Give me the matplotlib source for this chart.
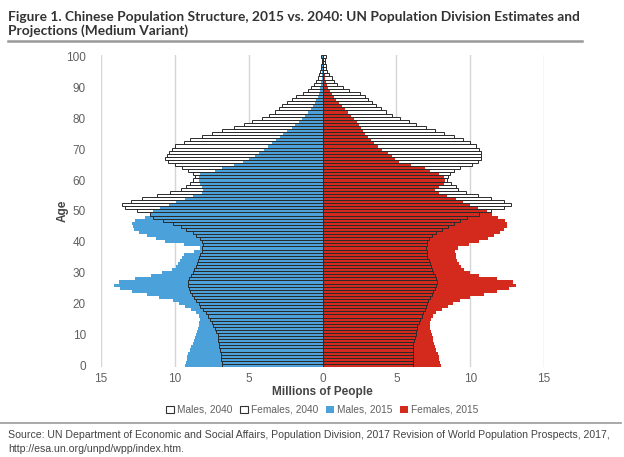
import numpy as np
import matplotlib
matplotlib.use("Agg")
import matplotlib.pyplot as plt
from matplotlib.patches import Patch

ages = np.arange(0, 101)

# millions of people, single year of age 0..100 (100 = 100+)
males_2015 = [
    9.3, 9.25, 9.2, 9.15, 9.1, 9.0, 8.9, 8.8, 8.7, 8.65,
    8.55, 8.5, 8.45, 8.4, 8.35, 8.3, 8.4, 8.6, 8.9, 9.3,
    9.7, 10.1, 11.1, 11.9, 12.9, 13.7, 14.1, 13.8, 12.7, 11.6,
    10.9, 10.2, 9.95, 9.8, 9.65, 9.55, 9.4, 8.7, 8.3, 9.4,
    10.7, 11.3, 11.9, 12.4, 12.75, 12.85, 12.9, 12.7, 12.0, 11.7,
    11.5, 11.0, 10.4, 9.9, 9.3, 8.8, 8.2, 8.1, 8.2, 8.3,
    8.4, 8.4, 8.3, 7.3, 6.8, 6.0, 5.4, 5.0, 4.6, 4.3,
    4.0, 3.7, 3.4, 3.15, 2.9, 2.65, 2.4, 2.1, 1.85, 1.6,
    1.4, 1.2, 1.0, 0.8, 0.65, 0.52, 0.42, 0.33, 0.26, 0.2,
    0.15, 0.11, 0.08, 0.06, 0.04, 0.03, 0.02, 0.015, 0.01, 0.01,
    0.01,
]
females_2015 = [
    8.0, 7.95, 7.9, 7.85, 7.8, 7.7, 7.6, 7.55, 7.5, 7.45,
    7.4, 7.35, 7.3, 7.3, 7.3, 7.35, 7.45, 7.65, 8.1, 8.5,
    8.8, 9.3, 10.0, 10.9, 11.8, 12.6, 13.1, 12.9, 11.8, 10.6,
    10.0, 9.6, 9.4, 9.25, 9.1, 9.05, 9.05, 8.95, 9.2, 9.9,
    10.6, 11.2, 11.6, 12.0, 12.3, 12.5, 12.5, 12.35, 11.9, 11.5,
    11.1, 10.5, 10.0, 9.5, 9.0, 8.4, 7.9, 7.6, 7.85, 8.2,
    8.3, 8.2, 7.85, 7.3, 6.9, 6.0, 5.2, 4.9, 4.7, 4.45,
    4.05, 3.75, 3.5, 3.25, 3.05, 2.9, 2.75, 2.6, 2.45, 2.3,
    2.1, 1.95, 1.75, 1.55, 1.3, 1.1, 0.92, 0.78, 0.62, 0.48,
    0.38, 0.3, 0.23, 0.18, 0.14, 0.1, 0.08, 0.06, 0.04, 0.03,
    0.04,
]
males_2040 = [
    6.8, 6.8, 6.85, 6.9, 6.9, 6.95, 7.0, 7.0, 7.05, 7.1,
    7.1, 7.2, 7.3, 7.4, 7.5, 7.6, 7.75, 7.9, 8.1, 8.3,
    8.4, 8.55, 8.7, 8.85, 8.95, 9.05, 9.1, 9.1, 9.05, 8.9,
    8.8, 8.7, 8.6, 8.5, 8.45, 8.4, 8.3, 8.2, 8.15, 8.1,
    8.15, 8.3, 8.6, 8.8, 9.25, 9.6, 10.1, 10.8, 11.5, 11.7,
    12.6, 13.4, 13.6, 13.0, 12.2, 11.2, 10.3, 9.6, 9.25, 9.0,
    8.75, 8.65, 8.8, 9.1, 9.5, 10.0, 10.5, 10.7, 10.55, 10.4,
    10.2, 10.0, 9.4, 9.0, 8.2, 7.5, 6.8, 6.0, 5.35, 4.75,
    4.1, 3.6, 3.25, 2.95, 2.75, 2.4, 2.05, 1.8, 1.3, 1.0,
    0.78, 0.58, 0.45, 0.32, 0.22, 0.16, 0.12, 0.09, 0.07, 0.05,
    0.12,
]
females_2040 = [
    6.1, 6.1, 6.1, 6.1, 6.1, 6.12, 6.15, 6.15, 6.2, 6.25,
    6.3, 6.33, 6.37, 6.42, 6.5, 6.6, 6.7, 6.8, 6.9, 7.0,
    7.05, 7.15, 7.25, 7.4, 7.5, 7.6, 7.7, 7.75, 7.7, 7.6,
    7.5, 7.4, 7.35, 7.25, 7.2, 7.1, 7.05, 7.05, 7.0, 7.05,
    7.1, 7.2, 7.4, 7.7, 8.1, 8.5, 8.9, 9.3, 9.8, 10.6,
    11.4, 12.3, 12.75, 12.3, 11.4, 10.5, 9.7, 9.2, 9.0, 8.7,
    8.45, 8.5, 8.65, 8.9, 9.3, 10.1, 10.5, 10.7, 10.75, 10.7,
    10.6, 10.4, 10.0, 9.5, 8.9, 8.2, 7.6, 7.0, 6.35, 5.85,
    5.25, 4.7, 4.3, 3.95, 3.6, 3.35, 3.1, 2.85, 2.5, 1.8,
    1.4, 0.95, 0.78, 0.62, 0.45, 0.33, 0.25, 0.2, 0.16, 0.15,
    0.2,
]

x_ticks = [-15, -10, -5, 0, 5, 10, 15]
x_labels = ["15", "10", "5", "0", "5", "10", "15"]
y_ticks = list(range(0, 101, 10))
legend_labels = ["Males, 2040", "Females, 2040", "Males, 2015", "Females, 2015"]

blue = "#4ba1da"
red = "#d42a1d"
text_gray = "#606060"

plt.rcParams["font.family"] = ["Liberation Sans", "DejaVu Sans"]

fig = plt.figure(figsize=(6.24, 4.57), dpi=100)
ax = fig.add_axes([0.162, 0.197, 0.710, 0.683])

m15 = -np.array(males_2015)
f15 = np.array(females_2015)
m40 = -np.array(males_2040)
f40 = np.array(females_2040)

# white fill of 2040 bars behind, 2015 colour, then 2040 outlines on top
ax.barh(ages, m40, height=1.0, color="white", edgecolor="none", zorder=2)
ax.barh(ages, f40, height=1.0, color="white", edgecolor="none", zorder=2)
ax.barh(ages, m15, height=1.0, color=blue, edgecolor="none", zorder=3)
ax.barh(ages, f15, height=1.0, color=red, edgecolor="none", zorder=3)
ax.barh(ages, m40, height=1.0, facecolor="none", edgecolor="#2b2b2b", linewidth=0.7, zorder=4)
ax.barh(ages, f40, height=1.0, facecolor="none", edgecolor="#2b2b2b", linewidth=0.7, zorder=4)

ax.set_xlim(-15, 15)
ax.set_ylim(-0.5, 100.5)
ax.set_xticks(x_ticks)
ax.set_xticklabels(x_labels)
ax.set_yticks(y_ticks)
ax.grid(axis="x", color="#d6d6d6", linewidth=1.0, zorder=0)
ax.set_axisbelow(True)
for s in ax.spines.values():
    s.set_visible(False)
ax.tick_params(axis="x", length=0, labelsize=8.5, colors=text_gray, pad=4)
ax.tick_params(axis="y", length=0, labelsize=8.5, colors=text_gray, pad=11)
ax.set_xlabel("Millions of People", fontsize=8.5, fontweight="bold", color="#444444", labelpad=1)
ax.set_ylabel("Age", fontsize=8.5, fontweight="bold", color="#444444", labelpad=-2)

handles = [
    Patch(facecolor="white", edgecolor="#333333", linewidth=0.8),
    Patch(facecolor="white", edgecolor="#333333", linewidth=0.8),
    Patch(facecolor=blue, edgecolor="none"),
    Patch(facecolor=red, edgecolor="none"),
]
fig.legend(handles, legend_labels, loc="center", bbox_to_anchor=(0.516, 0.103), ncol=4,
           frameon=False, fontsize=7.3, handlelength=0.75, handleheight=0.75,
           handletextpad=0.3, columnspacing=0.8, labelcolor=text_gray)

fig.text(0.013, 0.977, "Figure 1. Chinese Population Structure, 2015 vs. 2040: UN Population Division Estimates and\nProjections (Medium Variant)",
         family=["Lato", "DejaVu Sans"], fontweight="bold", fontsize=9.9,
         color="#333333", va="top", ha="left", linespacing=1.2)
fig.add_artist(plt.Line2D([0.013, 0.933], [0.91, 0.91], color="#999999", linewidth=1.8))
fig.add_artist(plt.Line2D([0.0, 0.995], [0.074, 0.074], color="#999999", linewidth=1.2))
fig.text(0.013, 0.059, "Source: UN Department of Economic and Social Affairs, Population Division, 2017 Revision of World Population Prospects, 2017,\nhttp://esa.un.org/unpd/wpp/index.htm.",
         fontsize=7.6, color="#444444", va="top", ha="left", linespacing=1.45)

fig.savefig("out.png", dpi=100)
